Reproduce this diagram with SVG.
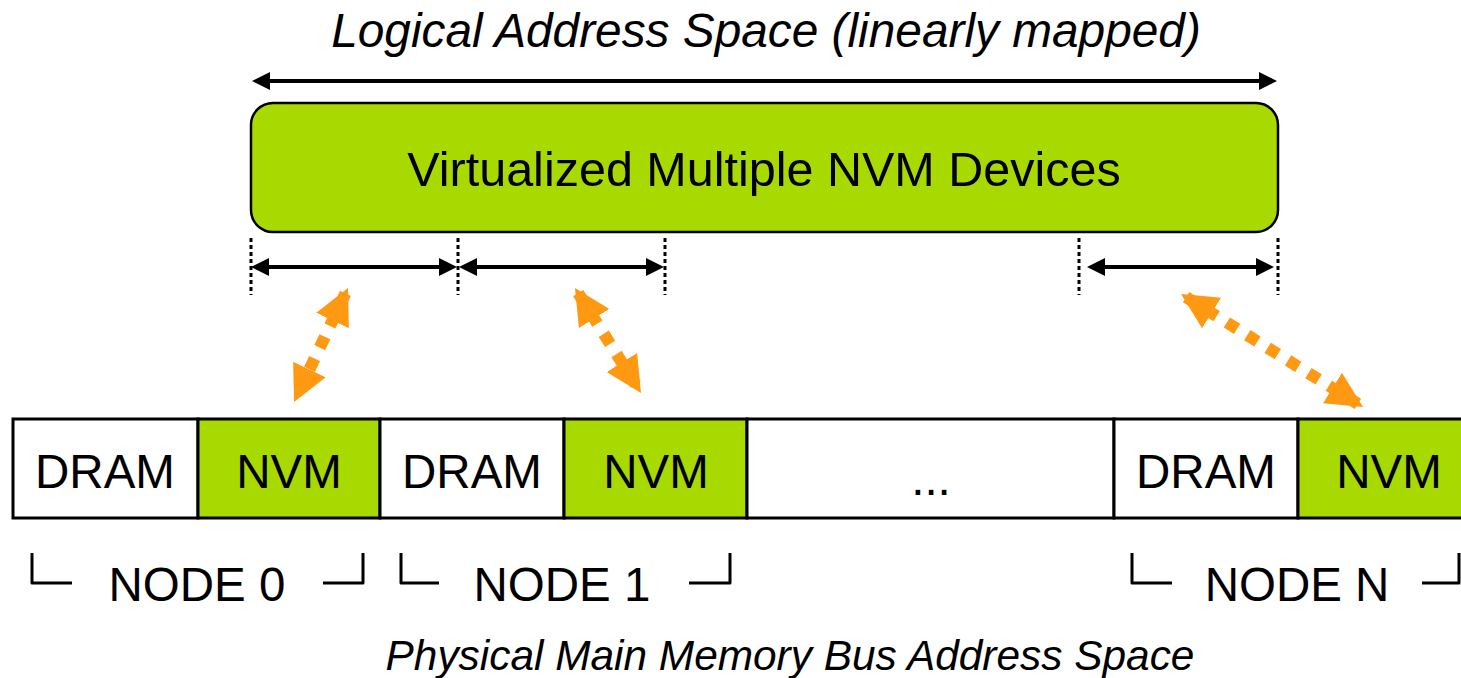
<svg xmlns="http://www.w3.org/2000/svg" width="1461" height="678" viewBox="0 0 1461 678">
  <style>
    text { font-family: "Liberation Sans", Arial, sans-serif; fill: #000; }
    .title { font-size: 47.8px; font-style: italic; text-anchor: middle; }
    .subtitle { font-size: 42.4px; font-style: italic; text-anchor: middle; }
    .lbl { font-size: 47.5px; text-anchor: middle; }
    .big { font-size: 48.5px; text-anchor: middle; }
    .cell { stroke: #000; stroke-width: 3; }
    .green { fill: #A8D900; }
    .white { fill: #FFFFFF; }
    .span { stroke: #000; stroke-width: 4; fill: none; marker-start: url(#blk); marker-end: url(#blk); }
    .tick { stroke: #000; stroke-width: 3; stroke-dasharray: 4 3; fill: none; }
    .map { stroke: #FF9912; stroke-width: 12; stroke-dasharray: 12 12; fill: none; marker-start: url(#org); marker-end: url(#org); }
    .brk { stroke: #000; stroke-width: 3; fill: none; stroke-linejoin: round; stroke-linecap: butt; }
  </style>
  <defs>
    <marker id="blk" markerUnits="userSpaceOnUse" markerWidth="18" markerHeight="18" refX="14" refY="9" orient="auto-start-reverse" viewBox="0 0 18 18">
      <path d="M0,0 L18,9 L0,18 z" fill="#000"/>
    </marker>
    <marker id="org" markerUnits="userSpaceOnUse" markerWidth="36" markerHeight="36" refX="30" refY="18" orient="auto-start-reverse" viewBox="0 0 36 36">
      <path d="M0,0 L36,18 L0,36 z" fill="#FF9912"/>
    </marker>
  </defs>

  <rect width="1461" height="678" fill="#FFFFFF"/>

  <!-- logical address space -->
  <text class="title" x="766" y="47">Logical Address Space (linearly mapped)</text>

  <g id="virtual-nvm">
    <rect x="251" y="103" width="1027" height="129" rx="22" ry="22" fill="#A8D900" stroke="#000" stroke-width="2.5"/>
    <text class="big" x="764" y="186">Virtualized Multiple NVM Devices</text>
  </g>

  <!-- physical memory bus -->
  <g id="node0-dram"><rect class="cell white" x="13" y="419" width="185" height="99"/><text class="lbl" x="105" y="488">DRAM</text></g>
  <g id="node0-nvm"><rect class="cell green" x="198" y="419" width="182" height="99"/><text class="lbl" x="289" y="488">NVM</text></g>
  <g id="node1-dram"><rect class="cell white" x="380" y="419" width="184" height="99"/><text class="lbl" x="472" y="488">DRAM</text></g>
  <g id="node1-nvm"><rect class="cell green" x="564" y="419" width="183" height="99"/><text class="lbl" x="656" y="488">NVM</text></g>
  <g id="ellipsis"><rect class="cell white" x="747" y="419" width="367" height="99"/><text class="lbl" x="931" y="495">...</text></g>
  <g id="nodeN-dram"><rect class="cell white" x="1114" y="419" width="184" height="99"/><text class="lbl" x="1206" y="488">DRAM</text></g>
  <g id="nodeN-nvm"><rect class="cell green" x="1298" y="419" width="184" height="99"/><text class="lbl" x="1389" y="488">NVM</text></g>

  <!-- node labels with brackets -->
  <g id="node0-label">
    <path class="brk" d="M32,553 L32,583 L72,583"/>
    <path class="brk" d="M323,583 L363,583 L363,553"/>
    <text class="lbl" x="197" y="601">NODE 0</text>
  </g>
  <g id="node1-label">
    <path class="brk" d="M401,553 L401,583 L439,583"/>
    <path class="brk" d="M689,583 L730,583 L730,553"/>
    <text class="lbl" x="562" y="601">NODE 1</text>
  </g>
  <g id="nodeN-label">
    <path class="brk" d="M1132,553 L1132,583 L1172,583"/>
    <path class="brk" d="M1422,583 L1459,583 L1459,553"/>
    <text class="lbl" x="1297" y="601">NODE N</text>
  </g>

  <text class="subtitle" x="790" y="670">Physical Main Memory Bus Address Space</text>

  <g id="connectors">
    <!-- full logical range -->
    <line class="span" x1="256" y1="81" x2="1273" y2="81"/>
    <!-- range boundaries -->
    <line class="tick" x1="251" y1="238" x2="251" y2="295"/>
    <line class="tick" x1="458" y1="238" x2="458" y2="295"/>
    <line class="tick" x1="665" y1="238" x2="665" y2="295"/>
    <line class="tick" x1="1079" y1="238" x2="1079" y2="295"/>
    <line class="tick" x1="1278" y1="238" x2="1278" y2="295"/>
    <!-- per-device ranges -->
    <line class="span" x1="255" y1="267" x2="453" y2="267"/>
    <line class="span" x1="463" y1="267" x2="660" y2="267"/>
    <line class="span" x1="1091" y1="267" x2="1270" y2="267"/>
    <!-- mappings to physical NVM -->
    <line class="map" x1="345.4" y1="293.4" x2="296.6" y2="396.6"/>
    <line class="map" x1="578.2" y1="293.1" x2="637.8" y2="387.9"/>
    <line class="map" x1="1186.1" y1="297.2" x2="1357.9" y2="403.8"/>
  </g>
</svg>
